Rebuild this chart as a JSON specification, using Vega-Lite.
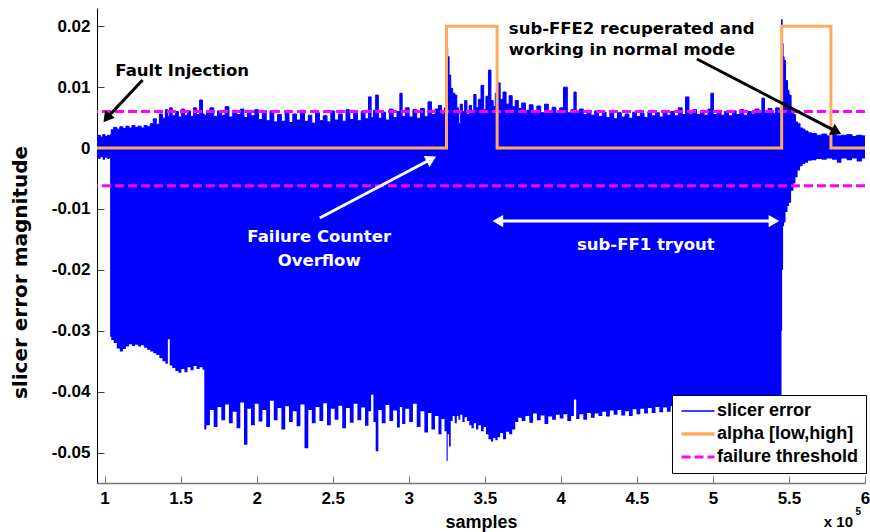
{
  "$schema": "https://vega.github.io/schema/vega-lite/v6.json",
  "width": 768,
  "height": 475,
  "autosize": {"type": "none"},
  "padding": {"left": 97, "top": 8, "right": 5, "bottom": 49},
  "background": "white",
  "config": {
    "view": {"stroke": null},
    "axis": {"grid": false, "labelFont": "Liberation Sans", "labelFontSize": 17, "labelFontWeight": "bold", "labelColor": "black", "titleFont": "Liberation Sans", "titleFontSize": 18, "titleFontWeight": "bold", "titleColor": "black", "tickSize": -7, "labelPadding": 14, "labelFlush": false}
  },
  "datasets": {
    "signal": [
      {"sample": 95000, "upper": 0.0019, "lower": -0.0016},
      {"sample": 96500, "upper": 0.0021, "lower": -0.0018},
      {"sample": 98000, "upper": 0.0018, "lower": -0.0015},
      {"sample": 99500, "upper": 0.0022, "lower": -0.0019},
      {"sample": 101000, "upper": 0.0019, "lower": -0.0016},
      {"sample": 102500, "upper": 0.0021, "lower": -0.0018},
      {"sample": 103500, "upper": 0.0020, "lower": -0.0017},
      {"sample": 103700, "upper": 0.0022, "lower": -0.0310},
      {"sample": 105000, "upper": 0.0030, "lower": -0.0315},
      {"sample": 107000, "upper": 0.0034, "lower": -0.0320},
      {"sample": 109000, "upper": 0.0031, "lower": -0.0329},
      {"sample": 111000, "upper": 0.0035, "lower": -0.0334},
      {"sample": 113000, "upper": 0.0032, "lower": -0.0330},
      {"sample": 115000, "upper": 0.0036, "lower": -0.0326},
      {"sample": 117000, "upper": 0.0033, "lower": -0.0322},
      {"sample": 119000, "upper": 0.0037, "lower": -0.0325},
      {"sample": 121000, "upper": 0.0034, "lower": -0.0323},
      {"sample": 123000, "upper": 0.0036, "lower": -0.0326},
      {"sample": 125000, "upper": 0.0033, "lower": -0.0324},
      {"sample": 127000, "upper": 0.0037, "lower": -0.0328},
      {"sample": 129000, "upper": 0.0035, "lower": -0.0331},
      {"sample": 131000, "upper": 0.0040, "lower": -0.0334},
      {"sample": 133000, "upper": 0.0048, "lower": -0.0337},
      {"sample": 135000, "upper": 0.0039, "lower": -0.0340},
      {"sample": 137000, "upper": 0.0056, "lower": -0.0345},
      {"sample": 139000, "upper": 0.0049, "lower": -0.0350},
      {"sample": 141000, "upper": 0.0063, "lower": -0.0354},
      {"sample": 142200, "upper": 0.0052, "lower": -0.0314},
      {"sample": 143400, "upper": 0.0066, "lower": -0.0357},
      {"sample": 145500, "upper": 0.0053, "lower": -0.0361},
      {"sample": 147500, "upper": 0.0060, "lower": -0.0366},
      {"sample": 149500, "upper": 0.0051, "lower": -0.0369},
      {"sample": 151500, "upper": 0.0064, "lower": -0.0363},
      {"sample": 153500, "upper": 0.0054, "lower": -0.0368},
      {"sample": 155500, "upper": 0.0061, "lower": -0.0360},
      {"sample": 157500, "upper": 0.0052, "lower": -0.0365},
      {"sample": 159500, "upper": 0.0066, "lower": -0.0358},
      {"sample": 161500, "upper": 0.0055, "lower": -0.0363},
      {"sample": 163500, "upper": 0.0079, "lower": -0.0360},
      {"sample": 165300, "upper": 0.0056, "lower": -0.0364},
      {"sample": 165800, "upper": 0.0053, "lower": -0.0462},
      {"sample": 168000, "upper": 0.0058, "lower": -0.0455},
      {"sample": 170500, "upper": 0.0066, "lower": -0.0430},
      {"sample": 173000, "upper": 0.0052, "lower": -0.0458},
      {"sample": 175500, "upper": 0.0061, "lower": -0.0425},
      {"sample": 178000, "upper": 0.0054, "lower": -0.0447},
      {"sample": 180500, "upper": 0.0068, "lower": -0.0421},
      {"sample": 183000, "upper": 0.0051, "lower": -0.0452},
      {"sample": 185500, "upper": 0.0062, "lower": -0.0433},
      {"sample": 188000, "upper": 0.0055, "lower": -0.0460},
      {"sample": 190500, "upper": 0.0064, "lower": -0.0418},
      {"sample": 192800, "upper": 0.0050, "lower": -0.0487},
      {"sample": 195000, "upper": 0.0060, "lower": -0.0428},
      {"sample": 197500, "upper": 0.0053, "lower": -0.0455},
      {"sample": 200000, "upper": 0.0063, "lower": -0.0420},
      {"sample": 202500, "upper": 0.0047, "lower": -0.0449},
      {"sample": 205000, "upper": 0.0058, "lower": -0.0430},
      {"sample": 207500, "upper": 0.0045, "lower": -0.0458},
      {"sample": 210000, "upper": 0.0061, "lower": -0.0415},
      {"sample": 212500, "upper": 0.0043, "lower": -0.0447},
      {"sample": 215000, "upper": 0.0055, "lower": -0.0427},
      {"sample": 217500, "upper": 0.0044, "lower": -0.0462},
      {"sample": 220000, "upper": 0.0060, "lower": -0.0424},
      {"sample": 222500, "upper": 0.0042, "lower": -0.0450},
      {"sample": 225000, "upper": 0.0056, "lower": -0.0432},
      {"sample": 227500, "upper": 0.0046, "lower": -0.0457},
      {"sample": 230000, "upper": 0.0062, "lower": -0.0421},
      {"sample": 232900, "upper": 0.0044, "lower": -0.0493},
      {"sample": 235000, "upper": 0.0054, "lower": -0.0430},
      {"sample": 237500, "upper": 0.0041, "lower": -0.0452},
      {"sample": 240000, "upper": 0.0058, "lower": -0.0425},
      {"sample": 242500, "upper": 0.0045, "lower": -0.0448},
      {"sample": 245000, "upper": 0.0053, "lower": -0.0419},
      {"sample": 247500, "upper": 0.0043, "lower": -0.0455},
      {"sample": 250000, "upper": 0.0061, "lower": -0.0428},
      {"sample": 252500, "upper": 0.0046, "lower": -0.0446},
      {"sample": 255000, "upper": 0.0056, "lower": -0.0423},
      {"sample": 257500, "upper": 0.0044, "lower": -0.0460},
      {"sample": 260000, "upper": 0.0063, "lower": -0.0427},
      {"sample": 262500, "upper": 0.0047, "lower": -0.0451},
      {"sample": 265000, "upper": 0.0057, "lower": -0.0420},
      {"sample": 267500, "upper": 0.0045, "lower": -0.0447},
      {"sample": 270000, "upper": 0.0060, "lower": -0.0426},
      {"sample": 272500, "upper": 0.0048, "lower": -0.0456},
      {"sample": 274500, "upper": 0.0084, "lower": -0.0432},
      {"sample": 276000, "upper": 0.0050, "lower": -0.0405},
      {"sample": 277500, "upper": 0.0062, "lower": -0.0450},
      {"sample": 279000, "upper": 0.0087, "lower": -0.0498},
      {"sample": 281000, "upper": 0.0049, "lower": -0.0430},
      {"sample": 283500, "upper": 0.0059, "lower": -0.0452},
      {"sample": 286000, "upper": 0.0046, "lower": -0.0422},
      {"sample": 288500, "upper": 0.0064, "lower": -0.0448},
      {"sample": 291000, "upper": 0.0050, "lower": -0.0431},
      {"sample": 293500, "upper": 0.0060, "lower": -0.0459},
      {"sample": 294800, "upper": 0.0090, "lower": -0.0425},
      {"sample": 296500, "upper": 0.0052, "lower": -0.0453},
      {"sample": 299000, "upper": 0.0066, "lower": -0.0428},
      {"sample": 301500, "upper": 0.0051, "lower": -0.0450},
      {"sample": 304000, "upper": 0.0063, "lower": -0.0420},
      {"sample": 306500, "upper": 0.0049, "lower": -0.0458},
      {"sample": 309000, "upper": 0.0065, "lower": -0.0432},
      {"sample": 311500, "upper": 0.0052, "lower": -0.0467},
      {"sample": 313800, "upper": 0.0076, "lower": -0.0435},
      {"sample": 316000, "upper": 0.0055, "lower": -0.0462},
      {"sample": 318500, "upper": 0.0064, "lower": -0.0440},
      {"sample": 320500, "upper": 0.0070, "lower": -0.0470},
      {"sample": 322500, "upper": 0.0056, "lower": -0.0445},
      {"sample": 324500, "upper": 0.0066, "lower": -0.0465},
      {"sample": 325200, "upper": 0.0164, "lower": -0.0514},
      {"sample": 326000, "upper": 0.0150, "lower": -0.0470},
      {"sample": 327000, "upper": 0.0120, "lower": -0.0490},
      {"sample": 328200, "upper": 0.0098, "lower": -0.0448},
      {"sample": 329500, "upper": 0.0090, "lower": -0.0440},
      {"sample": 331000, "upper": 0.0087, "lower": -0.0452},
      {"sample": 332200, "upper": 0.0066, "lower": -0.0440},
      {"sample": 333200, "upper": 0.0040, "lower": -0.0446},
      {"sample": 334500, "upper": 0.0072, "lower": -0.0438},
      {"sample": 336000, "upper": 0.0060, "lower": -0.0450},
      {"sample": 337500, "upper": 0.0078, "lower": -0.0442},
      {"sample": 339000, "upper": 0.0055, "lower": -0.0448},
      {"sample": 340500, "upper": 0.0070, "lower": -0.0455},
      {"sample": 342000, "upper": 0.0062, "lower": -0.0460},
      {"sample": 343500, "upper": 0.0088, "lower": -0.0452},
      {"sample": 345000, "upper": 0.0066, "lower": -0.0462},
      {"sample": 346500, "upper": 0.0080, "lower": -0.0455},
      {"sample": 348500, "upper": 0.0103, "lower": -0.0465},
      {"sample": 350000, "upper": 0.0063, "lower": -0.0458},
      {"sample": 351500, "upper": 0.0085, "lower": -0.0470},
      {"sample": 353300, "upper": 0.0128, "lower": -0.0478},
      {"sample": 354800, "upper": 0.0078, "lower": -0.0482},
      {"sample": 356200, "upper": 0.0068, "lower": -0.0476},
      {"sample": 357600, "upper": 0.0090, "lower": -0.0480},
      {"sample": 359200, "upper": 0.0107, "lower": -0.0475},
      {"sample": 361000, "upper": 0.0080, "lower": -0.0468},
      {"sample": 363000, "upper": 0.0092, "lower": -0.0478},
      {"sample": 365000, "upper": 0.0072, "lower": -0.0466},
      {"sample": 367000, "upper": 0.0086, "lower": -0.0470},
      {"sample": 369000, "upper": 0.0068, "lower": -0.0462},
      {"sample": 371000, "upper": 0.0078, "lower": -0.0450},
      {"sample": 373000, "upper": 0.0065, "lower": -0.0443},
      {"sample": 375500, "upper": 0.0074, "lower": -0.0448},
      {"sample": 378000, "upper": 0.0062, "lower": -0.0440},
      {"sample": 380500, "upper": 0.0071, "lower": -0.0451},
      {"sample": 383000, "upper": 0.0060, "lower": -0.0436},
      {"sample": 385500, "upper": 0.0069, "lower": -0.0447},
      {"sample": 388000, "upper": 0.0058, "lower": -0.0439},
      {"sample": 390500, "upper": 0.0072, "lower": -0.0453},
      {"sample": 393000, "upper": 0.0061, "lower": -0.0441},
      {"sample": 395500, "upper": 0.0067, "lower": -0.0446},
      {"sample": 398000, "upper": 0.0057, "lower": -0.0438},
      {"sample": 400500, "upper": 0.0066, "lower": -0.0444},
      {"sample": 403000, "upper": 0.0100, "lower": -0.0437},
      {"sample": 405500, "upper": 0.0058, "lower": -0.0448},
      {"sample": 408000, "upper": 0.0063, "lower": -0.0440},
      {"sample": 409200, "upper": 0.0092, "lower": -0.0413},
      {"sample": 411000, "upper": 0.0057, "lower": -0.0445},
      {"sample": 413500, "upper": 0.0064, "lower": -0.0437},
      {"sample": 416000, "upper": 0.0055, "lower": -0.0446},
      {"sample": 418500, "upper": 0.0062, "lower": -0.0435},
      {"sample": 421000, "upper": 0.0054, "lower": -0.0443},
      {"sample": 423500, "upper": 0.0061, "lower": -0.0436},
      {"sample": 426000, "upper": 0.0052, "lower": -0.0440},
      {"sample": 428500, "upper": 0.0059, "lower": -0.0433},
      {"sample": 431000, "upper": 0.0050, "lower": -0.0441},
      {"sample": 433500, "upper": 0.0057, "lower": -0.0431},
      {"sample": 436000, "upper": 0.0048, "lower": -0.0438},
      {"sample": 438500, "upper": 0.0058, "lower": -0.0430},
      {"sample": 441000, "upper": 0.0051, "lower": -0.0439},
      {"sample": 443500, "upper": 0.0056, "lower": -0.0432},
      {"sample": 446000, "upper": 0.0049, "lower": -0.0440},
      {"sample": 448500, "upper": 0.0059, "lower": -0.0429},
      {"sample": 451000, "upper": 0.0052, "lower": -0.0437},
      {"sample": 453500, "upper": 0.0057, "lower": -0.0428},
      {"sample": 456000, "upper": 0.0050, "lower": -0.0436},
      {"sample": 458500, "upper": 0.0060, "lower": -0.0427},
      {"sample": 461000, "upper": 0.0053, "lower": -0.0435},
      {"sample": 463500, "upper": 0.0058, "lower": -0.0425},
      {"sample": 466000, "upper": 0.0051, "lower": -0.0434},
      {"sample": 468500, "upper": 0.0061, "lower": -0.0426},
      {"sample": 471000, "upper": 0.0054, "lower": -0.0433},
      {"sample": 473500, "upper": 0.0060, "lower": -0.0424},
      {"sample": 476000, "upper": 0.0053, "lower": -0.0431},
      {"sample": 478500, "upper": 0.0066, "lower": -0.0425},
      {"sample": 481000, "upper": 0.0055, "lower": -0.0430},
      {"sample": 483000, "upper": 0.0084, "lower": -0.0423},
      {"sample": 485500, "upper": 0.0056, "lower": -0.0431},
      {"sample": 488000, "upper": 0.0063, "lower": -0.0424},
      {"sample": 490500, "upper": 0.0055, "lower": -0.0430},
      {"sample": 493000, "upper": 0.0061, "lower": -0.0422},
      {"sample": 495500, "upper": 0.0054, "lower": -0.0429},
      {"sample": 498000, "upper": 0.0064, "lower": -0.0423},
      {"sample": 499300, "upper": 0.0090, "lower": -0.0428},
      {"sample": 501500, "upper": 0.0055, "lower": -0.0431},
      {"sample": 504000, "upper": 0.0062, "lower": -0.0424},
      {"sample": 506500, "upper": 0.0054, "lower": -0.0430},
      {"sample": 509000, "upper": 0.0060, "lower": -0.0423},
      {"sample": 511500, "upper": 0.0053, "lower": -0.0429},
      {"sample": 514000, "upper": 0.0061, "lower": -0.0422},
      {"sample": 516500, "upper": 0.0055, "lower": -0.0428},
      {"sample": 519000, "upper": 0.0063, "lower": -0.0424},
      {"sample": 521500, "upper": 0.0054, "lower": -0.0430},
      {"sample": 524000, "upper": 0.0060, "lower": -0.0423},
      {"sample": 526500, "upper": 0.0056, "lower": -0.0429},
      {"sample": 529000, "upper": 0.0064, "lower": -0.0424},
      {"sample": 531500, "upper": 0.0057, "lower": -0.0428},
      {"sample": 532900, "upper": 0.0082, "lower": -0.0425},
      {"sample": 535000, "upper": 0.0058, "lower": -0.0430},
      {"sample": 537500, "upper": 0.0065, "lower": -0.0424},
      {"sample": 540000, "upper": 0.0057, "lower": -0.0429},
      {"sample": 542500, "upper": 0.0066, "lower": -0.0425},
      {"sample": 544700, "upper": 0.0058, "lower": -0.0430},
      {"sample": 545000, "upper": 0.0060, "lower": -0.0430},
      {"sample": 545200, "upper": 0.0211, "lower": -0.0300},
      {"sample": 545800, "upper": 0.0172, "lower": -0.0200},
      {"sample": 546500, "upper": 0.0150, "lower": -0.0128},
      {"sample": 547100, "upper": 0.0144, "lower": -0.0122},
      {"sample": 548400, "upper": 0.0111, "lower": -0.0105},
      {"sample": 549700, "upper": 0.0095, "lower": -0.0095},
      {"sample": 550400, "upper": 0.0087, "lower": -0.0090},
      {"sample": 552400, "upper": 0.0062, "lower": -0.0070},
      {"sample": 553500, "upper": 0.0055, "lower": -0.0058},
      {"sample": 555000, "upper": 0.0043, "lower": -0.0048},
      {"sample": 556300, "upper": 0.0040, "lower": -0.0037},
      {"sample": 558300, "upper": 0.0033, "lower": -0.0030},
      {"sample": 559600, "upper": 0.0031, "lower": -0.0026},
      {"sample": 561500, "upper": 0.0028, "lower": -0.0024},
      {"sample": 563600, "upper": 0.0025, "lower": -0.0021},
      {"sample": 566000, "upper": 0.0024, "lower": -0.0020},
      {"sample": 570100, "upper": 0.0021, "lower": -0.0018},
      {"sample": 573000, "upper": 0.0023, "lower": -0.0019},
      {"sample": 576700, "upper": 0.0020, "lower": -0.0017},
      {"sample": 580000, "upper": 0.0022, "lower": -0.0019},
      {"sample": 583000, "upper": 0.0020, "lower": -0.0024},
      {"sample": 586000, "upper": 0.0021, "lower": -0.0017},
      {"sample": 590000, "upper": 0.0022, "lower": -0.0020},
      {"sample": 593000, "upper": 0.0019, "lower": -0.0017},
      {"sample": 596000, "upper": 0.0021, "lower": -0.0022},
      {"sample": 600000, "upper": 0.0020, "lower": -0.0017}
    ],
    "alpha": [
      {"sample": 95000, "alpha": 0},
      {"sample": 324800, "alpha": 0.02},
      {"sample": 358100, "alpha": 0},
      {"sample": 545200, "alpha": 0.02},
      {"sample": 577600, "alpha": 0},
      {"sample": 600000, "alpha": 0}
    ],
    "thresholds": [
      {"level": 0.006},
      {"level": -0.0062}
    ]
  },
  "layer": [
    {
      "data": {"name": "signal"},
      "mark": {"type": "area", "color": "#0000ff", "interpolate": "step"},
      "encoding": {
        "x": {"field": "sample", "type": "quantitative", "scale": {"domain": [95000, 600000], "nice": false, "zero": false},
          "axis": {"values": [100000, 150000, 200000, 250000, 300000, 350000, 400000, 450000, 500000, 550000, 600000], "labelExpr": "toString(datum.value / 100000)", "domainColor": "#777777", "tickColor": "#777777", "domainWidth": 1.5, "title": "samples", "titleY": 44, "titleBaseline": "alphabetic"}},
        "y": {"field": "upper", "type": "quantitative", "scale": {"domain": [-0.055, 0.023], "nice": false, "zero": false},
          "axis": {"values": [-0.05, -0.04, -0.03, -0.02, -0.01, 0, 0.01, 0.02], "labelExpr": "datum.value == 0 ? '0' : toString(round(datum.value * 100) / 100)", "domainColor": "black", "tickColor": "#444444", "title": "slicer error magnitude", "titleFont": "DejaVu Sans", "titleFontSize": 20, "titleX": -77, "titleY": 264, "titleBaseline": "middle", "titleAlign": "center"}},
        "y2": {"field": "lower"}
      }
    },
    {
      "data": {"name": "signal"},
      "mark": {"type": "line", "strokeWidth": 1, "interpolate": "step"},
      "encoding": {
        "x": {"field": "sample", "type": "quantitative"},
        "y": {"field": "upper", "type": "quantitative"},
        "color": {"datum": "slicer error", "type": "nominal",
          "scale": {"domain": ["slicer error", "alpha [low,high]", "failure threshold"], "range": ["#0000ff", "#ffaa5e", "#ff00ff"]},
          "legend": {"orient": "none", "legendX": 575, "legendY": 387, "title": null, "symbolType": "stroke", "symbolSize": 1089, "symbolOffset": 10, "labelFont": "Liberation Sans", "labelFontSize": 18, "labelFontWeight": "bold", "labelColor": "black", "strokeColor": "black", "fillColor": "white", "padding": 7, "rowPadding": 5, "labelOffset": 10,
            "encode": {"symbols": {"update": {"strokeWidth": {"signal": "datum.value === 'alpha [low,high]' ? 3.5 : datum.value === 'failure threshold' ? 3 : 1.5"}, "strokeDash": {"signal": "datum.value === 'failure threshold' ? [9, 4] : [1, 0]"}}}}}
        }
      }
    },
    {
      "data": {"name": "thresholds"},
      "mark": {"type": "rule", "strokeWidth": 3, "strokeDash": [9, 4]},
      "encoding": {
        "y": {"field": "level", "type": "quantitative"},
        "color": {"datum": "failure threshold", "type": "nominal"}
      }
    },
    {
      "data": {"name": "alpha"},
      "mark": {"type": "line", "strokeWidth": 3, "interpolate": "step-after"},
      "encoding": {
        "x": {"field": "sample", "type": "quantitative"},
        "y": {"field": "alpha", "type": "quantitative"},
        "color": {"datum": "alpha [low,high]", "type": "nominal"}
      }
    },
    {
      "data": {"values": [
        {"sample": 125000, "value": 0.01118, "sample2": 101380, "value2": 0.00492},
        {"sample": 489500, "value": 0.01463, "sample2": 581300, "value2": 0.00269}
      ]},
      "mark": {"type": "rule", "color": "black", "strokeWidth": 3},
      "encoding": {
        "x": {"field": "sample", "type": "quantitative"},
        "y": {"field": "value", "type": "quantitative"},
        "x2": {"field": "sample2"},
        "y2": {"field": "value2"}
      }
    },
    {
      "data": {"values": [{"sample": 101380, "value": 0.00492}]},
      "mark": {"type": "point", "shape": "triangle-up", "filled": true, "color": "black", "opacity": 1, "size": 150, "angle": 218},
      "encoding": {"x": {"field": "sample", "type": "quantitative"}, "y": {"field": "value", "type": "quantitative"}}
    },
    {
      "data": {"values": [{"sample": 581300, "value": 0.00269}]},
      "mark": {"type": "point", "shape": "triangle-up", "filled": true, "color": "black", "opacity": 1, "size": 150, "angle": 117.5},
      "encoding": {"x": {"field": "sample", "type": "quantitative"}, "y": {"field": "value", "type": "quantitative"}}
    },
    {
      "data": {"values": [
        {"sample": 241450, "value": -0.01148, "sample2": 314870, "value2": -0.0018},
        {"sample": 358600, "value": -0.01198, "sample2": 540100, "value2": -0.01198}
      ]},
      "mark": {"type": "rule", "color": "white", "strokeWidth": 3},
      "encoding": {
        "x": {"field": "sample", "type": "quantitative"},
        "y": {"field": "value", "type": "quantitative"},
        "x2": {"field": "sample2"},
        "y2": {"field": "value2"}
      }
    },
    {
      "data": {"values": [{"sample": 314870, "value": -0.0018}]},
      "mark": {"type": "point", "shape": "triangle-up", "filled": true, "color": "white", "opacity": 1, "size": 150, "angle": 62},
      "encoding": {"x": {"field": "sample", "type": "quantitative"}, "y": {"field": "value", "type": "quantitative"}}
    },
    {
      "data": {"values": [{"sample": 358600, "value": -0.01198}]},
      "mark": {"type": "point", "shape": "triangle-up", "filled": true, "color": "white", "opacity": 1, "size": 150, "angle": 270},
      "encoding": {"x": {"field": "sample", "type": "quantitative"}, "y": {"field": "value", "type": "quantitative"}}
    },
    {
      "data": {"values": [{"sample": 540100, "value": -0.01198}]},
      "mark": {"type": "point", "shape": "triangle-up", "filled": true, "color": "white", "opacity": 1, "size": 150, "angle": 90},
      "encoding": {"x": {"field": "sample", "type": "quantitative"}, "y": {"field": "value", "type": "quantitative"}}
    },
    {
      "data": {"values": [
        {"sample": 151000, "value": 0.0118, "note": "Fault Injection"}
      ]},
      "mark": {"type": "text", "font": "DejaVu Sans", "fontWeight": "bold", "fontSize": 16.5, "color": "black", "align": "center", "baseline": "alphabetic"},
      "encoding": {"x": {"field": "sample", "type": "quantitative"}, "y": {"field": "value", "type": "quantitative"}, "text": {"field": "note"}}
    },
    {
      "data": {"values": [
        {"sample": 365800, "value": 0.01881, "note": "sub-FFE2 recuperated and"},
        {"sample": 365800, "value": 0.01536, "note": "working in normal mode"}
      ]},
      "mark": {"type": "text", "font": "DejaVu Sans", "fontWeight": "bold", "fontSize": 16.5, "color": "black", "align": "left", "baseline": "alphabetic"},
      "encoding": {"x": {"field": "sample", "type": "quantitative"}, "y": {"field": "value", "type": "quantitative"}, "text": {"field": "note"}}
    },
    {
      "data": {"values": [
        {"sample": 241100, "value": -0.01548, "note": "Failure Counter"},
        {"sample": 241100, "value": -0.01937, "note": "Overflow"},
        {"sample": 455900, "value": -0.01674, "note": "sub-FF1 tryout"}
      ]},
      "mark": {"type": "text", "font": "DejaVu Sans", "fontWeight": "bold", "fontSize": 16.5, "color": "white", "align": "center", "baseline": "alphabetic"},
      "encoding": {"x": {"field": "sample", "type": "quantitative"}, "y": {"field": "value", "type": "quantitative"}, "text": {"field": "note"}}
    },
    {
      "data": {"values": [{"sample": 592100, "value": -0.06223, "note": "x 10"}]},
      "mark": {"type": "text", "font": "Liberation Sans", "fontWeight": "bold", "fontSize": 15, "color": "black", "align": "right", "baseline": "alphabetic"},
      "encoding": {"x": {"field": "sample", "type": "quantitative"}, "y": {"field": "value", "type": "quantitative"}, "text": {"field": "note"}}
    },
    {
      "data": {"values": [{"sample": 593800, "value": -0.06026, "note": "5"}]},
      "mark": {"type": "text", "font": "Liberation Sans", "fontWeight": "bold", "fontSize": 10, "color": "black", "align": "left", "baseline": "alphabetic"},
      "encoding": {"x": {"field": "sample", "type": "quantitative"}, "y": {"field": "value", "type": "quantitative"}, "text": {"field": "note"}}
    }
  ]
}
